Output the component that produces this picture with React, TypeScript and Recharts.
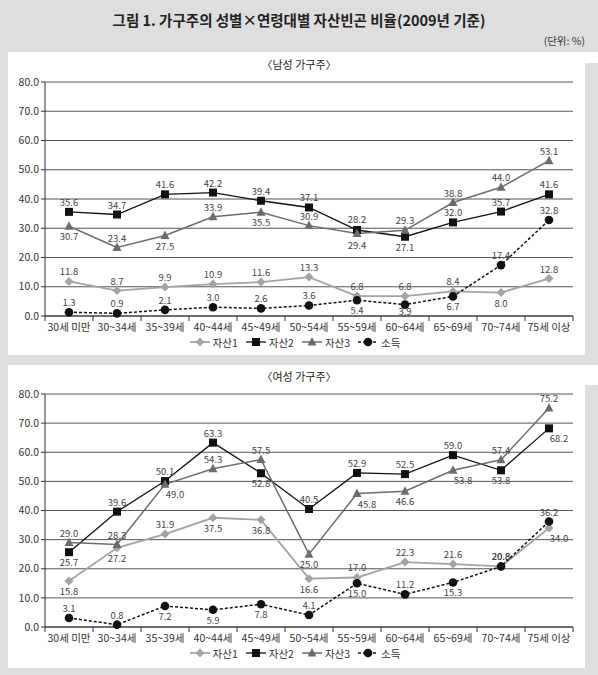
import React from 'react';
import { LineChart, Line, XAxis, YAxis, CartesianGrid, LabelList, Legend } from 'recharts';

const ages = ['30세 미만', '30~34세', '35~39세', '40~44세', '45~49세', '50~54세', '55~59세', '60~64세', '65~69세', '70~74세', '75세 이상'];
const yTicks = [0, 10, 20, 30, 40, 50, 60, 70, 80];

const maleAsset1 = [11.8, 8.7, 9.9, 10.9, 11.6, 13.3, 6.8, 6.8, 8.4, 8.0, 12.8];
const maleAsset2 = [35.6, 34.7, 41.6, 42.2, 39.4, 37.1, 29.4, 27.1, 32.0, 35.7, 41.6];
const maleAsset3 = [30.7, 23.4, 27.5, 33.9, 35.5, 30.9, 28.2, 29.3, 38.8, 44.0, 53.1];
const maleIncome = [1.3, 0.9, 2.1, 3.0, 2.6, 3.6, 5.4, 3.9, 6.7, 17.4, 32.8];

const femaleAsset1 = [15.8, 27.2, 31.9, 37.5, 36.8, 16.6, 17.0, 22.3, 21.6, 20.8, 34.0];
const femaleAsset2 = [25.7, 39.6, 50.1, 63.3, 52.8, 40.5, 52.9, 52.5, 59.0, 53.8, 68.2];
const femaleAsset3 = [29.0, 28.3, 49.0, 54.3, 57.5, 25.0, 45.8, 46.6, 53.8, 57.4, 75.2];
const femaleIncome = [3.1, 0.8, 7.2, 5.9, 7.8, 4.1, 15.0, 11.2, 15.3, 20.8, 36.2];

// where each value label sits: u = above, d = below, U/D = further away, b = just below, r = below right
const malePos = {
  a1: 'uuuuuuuuudu',
  a2: 'uuuuuuDduuu',
  a3: 'dududuUuuuu',
  inc: 'uuuuuudbduu',
};
const femalePos = {
  a1: 'dduddduuuur',
  a2: 'duuuduuuudr',
  a3: 'uuruudrdruu',
  inc: 'uudddududuu',
};

const offsets: Record<string, [number, number]> = {
  u: [0, -10],
  d: [0, 10],
  U: [0, -15],
  D: [0, 15],
  b: [0, 6],
  r: [10, 10],
};

const series = [
  { key: 'a1', name: '자산1', color: '#a3a3a3', width: 1.8, shape: 'diamond', dash: undefined },
  { key: 'a2', name: '자산2', color: '#111111', width: 1.3, shape: 'square', dash: undefined },
  { key: 'a3', name: '자산3', color: '#6c6c6c', width: 1.5, shape: 'triangle', dash: undefined },
  { key: 'inc', name: '소득', color: '#111111', width: 1.5, shape: 'circle', dash: '3 2' },
];

const HALF = 24;
const FONT = "'Noto Sans CJK KR', 'Noto Sans', sans-serif";

const Marker = ({ shape, cx, cy, color }: any) => {
  if (shape === 'diamond')
    return <polygon points={`${cx},${cy - 4.5} ${cx + 4.5},${cy} ${cx},${cy + 4.5} ${cx - 4.5},${cy}`} fill={color} />;
  if (shape === 'square') return <rect x={cx - 4} y={cy - 4} width={8} height={8} fill={color} />;
  if (shape === 'triangle')
    return <polygon points={`${cx},${cy - 5} ${cx + 4.5},${cy + 3.5} ${cx - 4.5},${cy + 3.5}`} fill={color} />;
  return <circle cx={cx} cy={cy} r={4.3} fill={color} />;
};

const makeLabel = (pos: string) => (p: any) => {
  const { x, y, value, index } = p;
  const [dx, dy] = offsets[pos[index]];
  return (
    <text key={`l-${index}`} x={x + dx} y={y + dy} textAnchor="middle" dominantBaseline="central" fontSize={9.5} fill="#444">
      {Number(value).toFixed(1)}
    </text>
  );
};

const AgeTick = (props: any) => {
  const { x, y, payload, index } = props;
  return (
    <g>
      {index === 0 && <line x1={x - HALF} x2={x - HALF} y1={y} y2={y + 5} stroke="#333" />}
      <line x1={x + HALF} x2={x + HALF} y1={y} y2={y + 5} stroke="#333" />
      <text x={x} y={y + 10} textAnchor="middle" dominantBaseline="central" fontSize={10.5} fill="#333">
        {payload.value}
      </text>
    </g>
  );
};

const ChartLegend = () => (
  <div style={{ display: 'flex', justifyContent: 'center', alignItems: 'center', height: 16, fontSize: 10.5, color: '#333' }}>
    {series.map((s) => (
      <div key={s.key} style={{ display: 'flex', alignItems: 'center', marginRight: 8 }}>
        <svg width={20} height={10}>
          <line x1={0} x2={20} y1={5} y2={5} stroke={s.color} strokeWidth={s.width} strokeDasharray={s.dash} />
          <Marker shape={s.shape} cx={10} cy={5} color={s.color} />
        </svg>
        <span style={{ marginLeft: 3 }}>{s.name}</span>
      </div>
    ))}
  </div>
);

const AgeChart = ({ rows, pos, top, marginTop, marginBottom }: any) => (
  <div style={{ position: 'absolute', left: 0, top }}>
    <LineChart width={598} height={303} data={rows} margin={{ top: marginTop, right: 25, left: 0, bottom: marginBottom }}>
      <CartesianGrid vertical={false} stroke="#555" />
      <XAxis
        dataKey="age"
        interval={0}
        padding={{ left: HALF, right: HALF }}
        tickLine={false}
        tickSize={0}
        tickMargin={0}
        axisLine={{ stroke: '#333' }}
        tick={<AgeTick />}
        height={18}
      />
      <YAxis
        domain={[0, 80]}
        ticks={yTicks}
        width={45}
        tickSize={4}
        tickLine={{ stroke: '#333' }}
        axisLine={{ stroke: '#333' }}
        tickFormatter={(v: number) => v.toFixed(1)}
        tick={{ fontSize: 10.5, fill: '#333' }}
      />
      <Legend verticalAlign="bottom" content={<ChartLegend />} wrapperStyle={{ left: 0, width: 598 }} />
      {series.map((s) => (
        <Line
          key={s.key}
          dataKey={s.key}
          name={s.name}
          stroke={s.color}
          strokeWidth={s.width}
          strokeDasharray={s.dash}
          isAnimationActive={false}
          dot={(d: any) => <Marker key={`${s.key}-${d.index}`} shape={s.shape} cx={d.cx} cy={d.cy} color={s.color} />}
          activeDot={false}
        >
          <LabelList dataKey={s.key} content={makeLabel(pos[s.key])} />
        </Line>
      ))}
    </LineChart>
  </div>
);

const maleRows = ages.map((age, i) => ({ age, a1: maleAsset1[i], a2: maleAsset2[i], a3: maleAsset3[i], inc: maleIncome[i] }));
const femaleRows = ages.map((age, i) => ({ age, a1: femaleAsset1[i], a2: femaleAsset2[i], a3: femaleAsset3[i], inc: femaleIncome[i] }));

export default function App() {
  return (
    <div style={{ position: 'absolute', left: 0, top: 0, width: 598, height: 675, background: '#dedede', fontFamily: FONT, overflow: 'hidden' }}>
      <div style={{ position: 'absolute', left: 0, top: 10, width: 598, textAlign: 'center', fontSize: 14.5, fontWeight: 700, lineHeight: '20px', color: '#222' }}>
        그림 1. 가구주의 성별×연령대별 자산빈곤 비율(2009년 기준)
      </div>
      <div style={{ position: 'absolute', right: 13, top: 33, fontSize: 10.5, lineHeight: '16px', color: '#333' }}>(단위: %)</div>

      <div style={{ position: 'absolute', left: 8, top: 52, width: 577, height: 303, background: '#fff' }} />
      <div style={{ position: 'absolute', left: 585, top: 52, width: 13, height: 11, background: '#fff' }} />
      <div style={{ position: 'absolute', left: 8, top: 365, width: 577, height: 303, background: '#fff' }} />
      <div style={{ position: 'absolute', left: 585, top: 365, width: 13, height: 20, background: '#fff' }} />

      <div style={{ position: 'absolute', left: 0, top: 56, width: 598, textAlign: 'center', fontSize: 11, lineHeight: '16px', color: '#222' }}>〈남성 가구주〉</div>
      <div style={{ position: 'absolute', left: 0, top: 368, width: 598, textAlign: 'center', fontSize: 11, lineHeight: '16px', color: '#222' }}>〈여성 가구주〉</div>

      <AgeChart rows={maleRows} pos={malePos} top={52} marginTop={30} marginBottom={5} />
      <AgeChart rows={femaleRows} pos={femalePos} top={365} marginTop={29} marginBottom={7} />
    </div>
  );
}
